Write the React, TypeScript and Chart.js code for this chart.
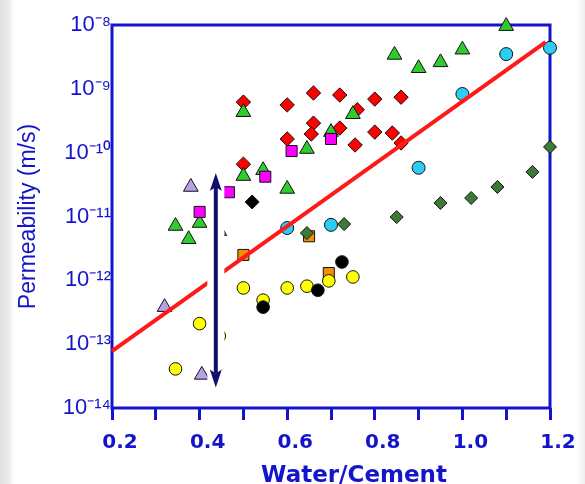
import React, { useEffect, useRef } from "react";
import { Chart, registerables } from "chart.js";

Chart.register(...registerables);

// ---- data ----
const redDiamondX = [0.5, 0.5, 0.6, 0.6, 0.66, 0.72, 0.8, 0.86, 0.76, 0.66, 0.655, 0.72, 0.8, 0.84, 0.755, 0.86];
const redDiamondY = [6.2e-10, 6.6e-11, 5.6e-10, 1.64e-10, 8.6e-10, 8.0e-10, 6.9e-10, 7.4e-10, 4.7e-10, 2.9e-10, 1.96e-10, 2.43e-10, 2.1e-10, 2.03e-10, 1.32e-10, 1.42e-10];

const greenTriX = [0.5, 0.5, 0.545, 0.6, 0.345, 0.375, 0.4, 0.445, 0.845, 0.9, 0.95, 1.0, 1.1, 0.75, 0.7, 0.645];
const greenTriY = [4.3e-10, 4.3e-11, 5.3e-11, 2.7e-11, 7.1e-12, 4.4e-12, 7.9e-12, 5.9e-12, 3.4e-9, 2.1e-9, 2.6e-9, 4.1e-9, 9.6e-9, 4.0e-10, 2.1e-10, 1.14e-10];

const magentaX = [0.4, 0.467, 0.55, 0.61, 0.7];
const magentaY = [1.18e-11, 2.4e-11, 4.2e-11, 1.06e-10, 1.64e-10];

const lavenderX = [0.38, 0.32, 0.405];
const lavenderY = [2.9e-11, 3.8e-13, 3.3e-14];

const blackDiamondX = [0.52];
const blackDiamondY = [1.69e-11];

const cyanX = [0.6, 0.7, 0.9, 1.0, 1.1, 1.2];
const cyanY = [6.6e-12, 7.4e-12, 5.8e-11, 8.3e-10, 3.5e-9, 4.4e-9];

const darkGreenX = [0.645, 0.73, 0.85, 0.95, 1.02, 1.08, 1.16, 1.2];
const darkGreenY = [5.5e-12, 7.6e-12, 9.8e-12, 1.63e-11, 1.95e-11, 2.9e-11, 5.0e-11, 1.23e-10];

const orangeX = [0.5, 0.695, 0.65];
const orangeY = [2.5e-12, 1.3e-12, 4.9e-12];

const yellowX = [0.5, 0.545, 0.4, 0.6, 0.645, 0.695, 0.75, 0.345, 0.445];
const yellowY = [7.6e-13, 4.9e-13, 2.1e-13, 7.6e-13, 8.1e-13, 9.8e-13, 1.13e-12, 4.1e-14, 1.34e-13];

const blackCircleX = [0.545, 0.67, 0.725];
const blackCircleY = [3.8e-13, 7.0e-13, 1.94e-12];

const fitLineX = [0.2, 1.19];
const fitLineY = [7.8e-14, 5.4e-9];

const arrowX = 0.437;
const arrowTopY = 4.8e-11;
const arrowBottomY = 2.1e-14;

const xTickValues = [0.2, 0.3, 0.4, 0.5, 0.6, 0.7, 0.8, 0.9, 1.0, 1.1, 1.2];
const xTickLabels = ["0.2", "", "0.4", "", "0.6", "", "0.8", "", "1.0", "", "1.2"];
const yTickValues = [1e-14, 1e-13, 1e-12, 1e-11, 1e-10, 1e-9, 1e-8];
const yTickLabels = ["10⁻¹⁴", "10⁻¹³", "10⁻¹²", "10⁻¹¹", "10⁻¹⁰", "10⁻⁹", "10⁻⁸"];

const xTitle = "Water/Cement";
const yTitle = "Permeability (m/s)";

// ---- styles ----
const BLUE = "#1414cc";
const NAVY = "#10106c";

const pts = (xs: number[], ys: number[]) => xs.map((x, i) => ({ x, y: ys[i] }));

const framePlugin = {
  id: "frame",
  beforeDatasetsDraw(chart: any) {
    const { ctx, chartArea: a } = chart;
    ctx.save();
    ctx.strokeStyle = BLUE;
    ctx.lineWidth = 3;
    ctx.strokeRect(a.left, a.top, a.right - a.left, a.bottom - a.top);
    ctx.restore();
  },
};

const xTitlePlugin = {
  id: "xTitle",
  afterDraw(chart: any) {
    const { ctx, chartArea: a } = chart;
    ctx.save();
    ctx.fillStyle = BLUE;
    ctx.font = "bold 23px 'DejaVu Sans'";
    ctx.textAlign = "center";
    ctx.textBaseline = "middle";
    ctx.fillText(xTitle, (a.left + a.right) / 2 + 23, 476);
    ctx.restore();
  },
};

const arrowPlugin = {
  id: "arrow",
  afterDatasetsDraw(chart: any) {
    const { ctx } = chart;
    const xs = chart.scales.x;
    const ys = chart.scales.y;
    const px = xs.getPixelForValue(arrowX);
    const top = ys.getPixelForValue(arrowTopY);
    const bot = ys.getPixelForValue(arrowBottomY);
    ctx.save();
    ctx.fillStyle = "#ffffff";
    ctx.fillRect(px - 8.5, top - 2, 17, bot - top + 4);
    ctx.strokeStyle = NAVY;
    ctx.fillStyle = NAVY;
    ctx.lineWidth = 4;
    ctx.beginPath();
    ctx.moveTo(px, top + 14);
    ctx.lineTo(px, bot - 14);
    ctx.stroke();
    ctx.beginPath();
    ctx.moveTo(px, top);
    ctx.lineTo(px - 6, top + 18);
    ctx.lineTo(px, top + 14);
    ctx.lineTo(px + 6, top + 18);
    ctx.closePath();
    ctx.fill();
    ctx.beginPath();
    ctx.moveTo(px, bot);
    ctx.lineTo(px - 6, bot - 18);
    ctx.lineTo(px, bot - 14);
    ctx.lineTo(px + 6, bot - 18);
    ctx.closePath();
    ctx.fill();
    ctx.restore();
  },
};

function marker(label: string, xs: number[], ys: number[], style: string, radius: number, color: string, order: number) {
  return {
    label,
    data: pts(xs, ys),
    pointStyle: style,
    pointRadius: radius,
    pointHoverRadius: radius,
    backgroundColor: color,
    borderColor: "#111111",
    borderWidth: 1,
    pointBorderWidth: 1,
    showLine: false,
    clip: false,
    order,
  };
}

export default function App() {
  const ref = useRef<HTMLCanvasElement | null>(null);
  useEffect(() => {
    if (!ref.current) return;
    const chart = new Chart(ref.current, {
      type: "scatter",
      data: {
        datasets: [
          {
            label: "fit",
            data: pts(fitLineX, fitLineY),
            showLine: true,
            borderColor: "#ff1a1a",
            borderWidth: 4,
            pointRadius: 0,
            clip: false,
            order: 0,
          } as any,
          marker("black circles", blackCircleX, blackCircleY, "circle", 6.3, "#000000", 1),
          marker("yellow", yellowX, yellowY, "circle", 6.3, "#ffff00", 2),
          marker("dark green", darkGreenX, darkGreenY, "rectRot", 6.5, "#3d7a35", 3),
          marker("orange", orangeX, orangeY, "rect", 7.8, "#f39000", 4),
          marker("cyan", cyanX, cyanY, "circle", 6.5, "#2ccdf2", 5),
          marker("black diamond", blackDiamondX, blackDiamondY, "rectRot", 7, "#000000", 6),
          marker("lavender", lavenderX, lavenderY, "triangle", 8.5, "#b9a1ea", 7),
          marker("magenta", magentaX, magentaY, "rect", 7.8, "#ff00ff", 8),
          marker("green", greenTriX, greenTriY, "triangle", 8.5, "#2ecc2e", 9),
          marker("red", redDiamondX, redDiamondY, "rectRot", 7.2, "#ff0000", 10),
        ],
      },
      options: {
        animation: false,
        responsive: true,
        maintainAspectRatio: false,
        layout: { padding: { left: 0, right: 35, top: 25, bottom: 0 } },
        plugins: { legend: { display: false }, tooltip: { enabled: false } },
        scales: {
          x: {
            type: "linear",
            min: 0.2,
            max: 1.2,
            afterBuildTicks: (axis: any) => {
              axis.ticks = xTickValues.map((v) => ({ value: v }));
            },
            afterFit: (scale: any) => {
              scale.height = 76;
            },
            border: { display: false },
            grid: {
              display: true,
              drawOnChartArea: false,
              drawTicks: true,
              tickLength: 12,
              color: BLUE,
              lineWidth: 3,
            },
            ticks: {
              autoSkip: false,
              maxRotation: 0,
              padding: 11,
              labelOffset: 8,
              color: BLUE,
              font: { family: "DejaVu Sans", size: 20, weight: "bold" },
              callback: (_v: any, i: number) => xTickLabels[i],
            },
            title: { display: false },
          },
          y: {
            type: "logarithmic",
            min: 1e-14,
            max: 1e-8,
            afterBuildTicks: (axis: any) => {
              axis.ticks = yTickValues.map((v) => ({ value: v }));
            },
            afterFit: (scale: any) => {
              scale.width = 112;
            },
            border: { display: false },
            grid: { display: false, drawTicks: false },
            ticks: {
              autoSkip: false,
              padding: 1,
              color: BLUE,
              font: { family: "Liberation Sans", size: 22 },
              callback: (_v: any, i: number) => yTickLabels[i],
            },
            title: {
              display: true,
              text: yTitle,
              color: BLUE,
              font: { family: "Liberation Sans", size: 23, lineHeight: 1.2 },
              padding: { top: 15, bottom: 0 },
            },
          },
        },
      } as any,
      plugins: [framePlugin, arrowPlugin, xTitlePlugin],
    });
    return () => chart.destroy();
  }, []);

  return (
    <div
      style={{
        position: "fixed",
        left: 0,
        top: 0,
        width: 585,
        height: 484,
        background:
          "linear-gradient(to right, #e2e2e2 0px, #ebebeb 9px, #ffffff 14px, #ffffff 576px, #eeeeee 585px)",
      }}
    >
      <canvas ref={ref} />
    </div>
  );
}
